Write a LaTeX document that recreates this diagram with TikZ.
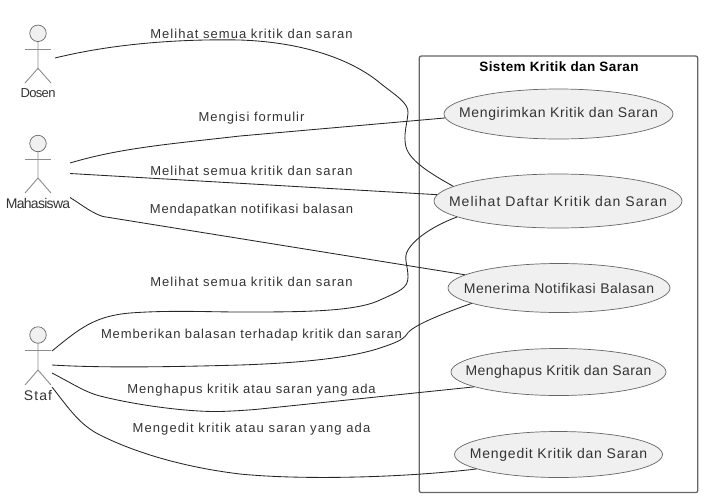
\documentclass[tikz,border=0pt]{standalone}
\usepackage{fontspec}
\setmainfont{Liberation Sans}
\newfontfamily\wideFont[LetterSpace=7.5]{Liberation Sans}
\newfontfamily\tightFont[LetterSpace=-5]{Liberation Sans}
\newfontfamily\titleFont[LetterSpace=3]{Liberation Sans}
\usetikzlibrary{shapes.geometric}
\definecolor{caseFill}{HTML}{F0F0F0}
\definecolor{caseEdge}{HTML}{666666}
\definecolor{textGray}{HTML}{333333}
\newcommand{\casetext}[2]{\makebox[0pt]{\addfontfeature{LetterSpace=#1}#2}}
\tikzset{
  usecase/.style={draw=caseEdge, fill=caseFill, ellipse, inner sep=0pt, line width=0.7pt, text=textGray, font=\wideFont\fontsize{14}{16}\selectfont},
  lbl/.style={text=textGray, inner sep=0pt, font=\wideFont\fontsize{13}{15}\selectfont},
  actorname/.style={text=textGray, inner sep=0pt, font=\tightFont\fontsize{14}{16}\selectfont},
  head/.style={draw=caseEdge, fill=caseFill, circle, inner sep=0pt, minimum size=16.5pt, line width=0.7pt},
  limb/.style={draw=black!45, line width=0.9pt},
  assoc/.style={draw=black!85, line width=0.85pt},
}
\begin{document}
\begin{tikzpicture}[x=1pt,y=-1pt]
  \useasboundingbox (0,0) rectangle (704,499);
  \node[draw=caseEdge, rounded corners=2pt, line width=1.3pt, minimum width=278.5pt, minimum height=436.5pt, inner sep=0pt] (sistem) at (558.5,274.3) {};
  \node[font=\titleFont\bfseries\fontsize{13.5}{15}\selectfont, inner sep=0pt] (judul) at (559,66.5) {Sistem Kritik dan Saran};

  \node[usecase, minimum width=229pt, minimum height=50pt] (kirim) at (558.5,114) {\casetext{4.5}{Mengirimkan Kritik dan Saran}};
  \node[usecase, minimum width=248pt, minimum height=54pt] (daftar) at (558,201) {\casetext{7.5}{Melihat Daftar Kritik dan Saran}};
  \node[usecase, minimum width=222pt, minimum height=49pt] (notif) at (559,288) {\casetext{3.8}{Menerima Notifikasi Balasan}};
  \node[usecase, minimum width=215pt, minimum height=47pt] (hapus) at (558.5,372) {\casetext{3}{Menghapus Kritik dan Saran}};
  \node[usecase, minimum width=208pt, minimum height=46pt] (edit) at (558.5,454.5) {\casetext{5.5}{Mengedit Kritik dan Saran}};

  \node[head] (dosen) at (38,33.3) {};
  \draw[limb] (dosen) -- (38,68.3) -- (25,83);
  \draw[limb] (38,68.3) -- (51,83);
  \draw[limb] (25,49) -- (51,49);
  \node[actorname, font=\tightFont\fontsize{13}{15}\selectfont] (dosenName) at (38,93) {Dosen};

  \node[head] (mhs) at (38,143.5) {};
  \draw[limb] (mhs) -- (38,178) -- (25,193);
  \draw[limb] (38,178) -- (51,193);
  \draw[limb] (25,159) -- (51,159);
  \node[actorname] (mhsName) at (38,203) {Mahasiswa};

  \node[head] (staf) at (38,335) {};
  \draw[limb] (staf) -- (38,370) -- (25,385);
  \draw[limb] (38,370) -- (51,385);
  \draw[limb] (25,350.7) -- (51,350.7);
  \node[lbl, font=\wideFont\fontsize{14}{16}\selectfont] (stafName) at (38,395) {Staf};

  \coordinate (dosenA) at (55,58);
  \coordinate (mhsA) at (70,163);
  \coordinate (mhsB) at (70,173.5);
  \coordinate (mhsC) at (70,197.5);
  \coordinate (stafA) at (52,351);
  \coordinate (stafB) at (52,365);
  \coordinate (stafC) at (52,373);
  \coordinate (stafD) at (52,387);

  \draw[assoc] (dosenA) .. controls (120,42) and (190,39) .. (240,40) .. controls (300,42) and (350,58) .. (380,83) .. controls (395,95) and (409,103) .. (408,113) .. controls (407,125) and (403,135) .. (406,147) .. controls (410,162) and (435,176) .. (daftar.172);
  \draw[assoc] (mhsA) .. controls (120,148) and (170,144) .. (240,136) -- (kirim.182.5);
  \draw[assoc] (mhsB) -- (daftar.177);
  \draw[assoc] (mhsC) .. controls (85,207) and (92,213) .. (103,216.5) -- (notif.172);
  \draw[assoc] (stafA) .. controls (80,328) and (95,316) .. (130,313) .. controls (170,310) and (210,312) .. (240,312) .. controls (300,312) and (355,312) .. (380,300) .. controls (400,291) and (408,288) .. (408,277) .. controls (408,265) and (403,258) .. (408,250) .. controls (415,238) and (435,225) .. (daftar.189);
  \draw[assoc] (stafB) .. controls (100,368) and (170,367) .. (240,365) .. controls (300,363) and (350,358) .. (380,348) .. controls (395,343) and (403,340) .. (407,334) .. controls (412,325) and (450,311) .. (notif.190);
  \draw[assoc] (stafC) .. controls (75,385) and (85,392) .. (100,396) .. controls (140,406) and (190,412) .. (220,411.5) .. controls (235,411) and (250,410) .. (260,409) -- (hapus.190);
  \draw[assoc] (stafD) .. controls (70,410) and (80,425) .. (100,435) .. controls (140,455) and (190,468) .. (240,474) .. controls (300,480) and (400,478) .. (edit.190);

  \node[lbl] (l1) at (251.5,34) {\casetext{8}{Melihat semua kritik dan saran}};
  \node[lbl] (l2) at (251.5,118) {\casetext{7.8}{Mengisi formulir}};
  \node[lbl] (l3) at (251.5,171) {\casetext{8}{Melihat semua kritik dan saran}};
  \node[lbl] (l4) at (251.5,210) {\casetext{6}{Mendapatkan notifikasi balasan}};
  \node[lbl] (l5) at (251.5,282) {\casetext{8}{Melihat semua kritik dan saran}};
  \node[lbl] (l6) at (251.5,335) {\casetext{6.8}{Memberikan balasan terhadap kritik dan saran}};
  \node[lbl] (l7) at (251.5,390) {\casetext{7.2}{Menghapus kritik atau saran yang ada}};
  \node[lbl] (l8) at (251.5,429) {\casetext{8.4}{Mengedit kritik atau saran yang ada}};
\end{tikzpicture}
\end{document}
